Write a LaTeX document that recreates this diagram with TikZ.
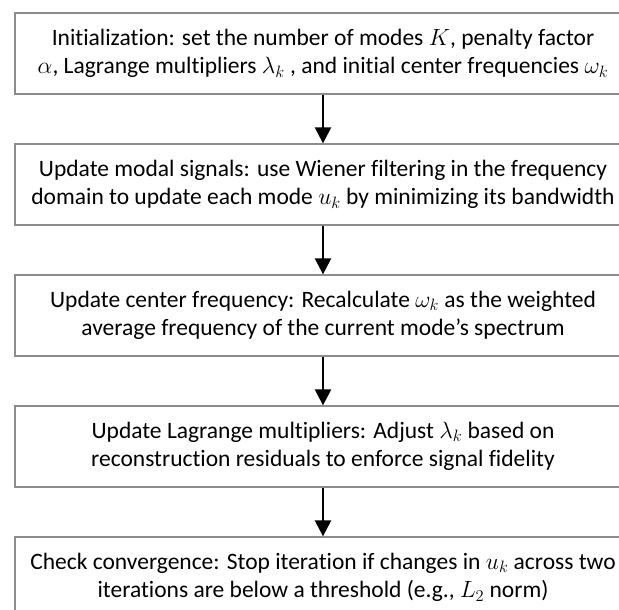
\documentclass[tikz,border=0pt]{standalone}
\usepackage{fix-cm}
\usepackage{fontspec}
\setmainfont{Carlito}[RawFeature={-liga;-clig;-dlig;-calt}]
\usetikzlibrary{arrows.meta}
\tikzset{
  stepbox/.style={draw=black!45, line width=1.3pt, fill=white, minimum width=616pt, minimum height=81pt,
    align=center, inner sep=0pt, font=\fontsize{23.5}{28.5}\selectfont},
  flowarrow/.style={line width=2.4pt, -{Triangle[width=16pt,length=16pt]}}
}
\begin{document}
\begin{tikzpicture}[x=1pt,y=-1pt]
\useasboundingbox (0,0) rectangle (619,610);
\clip (0,0) rectangle (619,610);
\fill[white] (0,0) rectangle (619,610);
\node[stepbox] (b1) at (323,53.5) {Initialization: set the number of modes $K$, penalty factor\\ $\alpha$, Lagrange multipliers $\lambda_k$ , and initial center frequencies $\omega_k$};
\node[stepbox] (b2) at (323,184.5) {Update modal signals: use Wiener filtering in the frequency\\ domain to update each mode $u_k$ by minimizing its bandwidth};
\node[stepbox] (b3) at (323,315.5) {Update center frequency: Recalculate $\omega_k$ as the weighted\\ average frequency of the current mode’s spectrum};
\node[stepbox] (b4) at (323,446.5) {Update Lagrange multipliers: Adjust $\lambda_k$ based on\\ reconstruction residuals to enforce signal fidelity};
\node[stepbox] (b5) at (323,577.5) {Check convergence: Stop iteration if changes in $u_k$ across two\\ iterations are below a threshold (e.g., $L_2$ norm)};
\draw[flowarrow] (b1) -- (b2);
\draw[flowarrow] (b2) -- (b3);
\draw[flowarrow] (b3) -- (b4);
\draw[flowarrow] (b4) -- (b5);
\end{tikzpicture}
\end{document}
